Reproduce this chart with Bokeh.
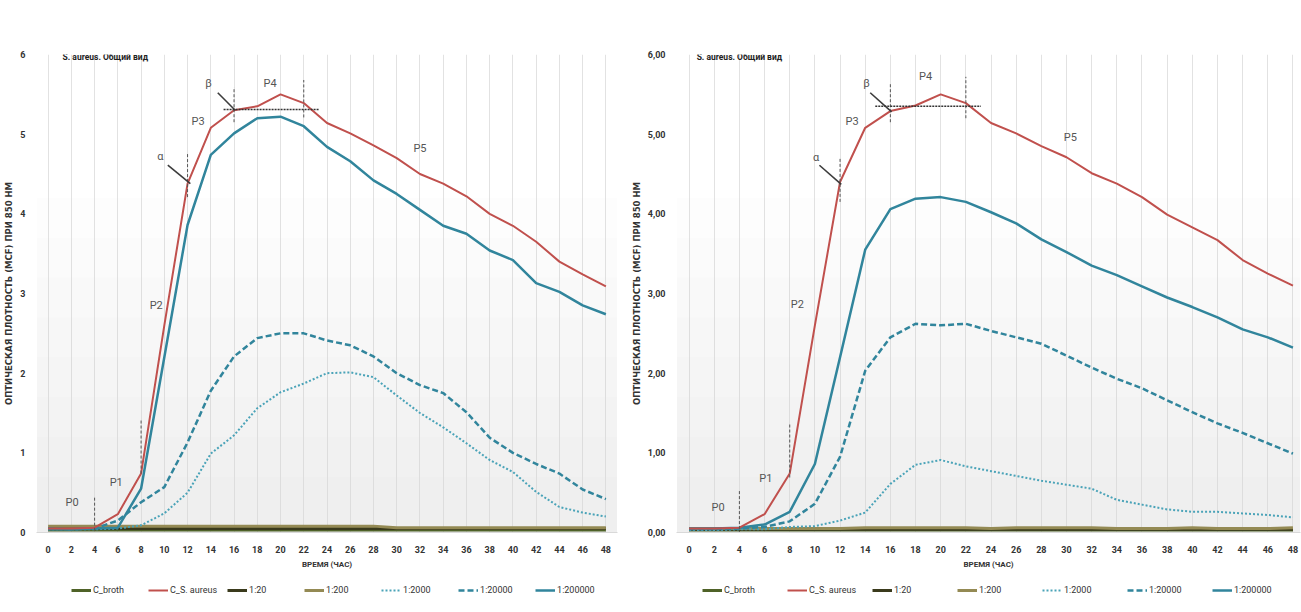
from bokeh.plotting import figure
from bokeh.layouts import row, column
from bokeh.models import FixedTicker, Legend, LegendItem, Label, BoxAnnotation, ColumnDataSource
from bokeh.embed import file_html
from bokeh.resources import INLINE
from bokeh.core.properties import value

# ---------------- data ----------------
hours = list(range(0, 49, 2))
title_text = "S. aureus. Общий вид"
x_label = "ВРЕМЯ (ЧАС)"
y_label = "ОПТИЧЕСКАЯ ПЛОТНОСТЬ (MCF) ПРИ 850 НМ"
series_names = ["C_broth", "C_S. aureus", "1:20", "1:200", "1:2000", "1:20000", "1:200000"]
y_ticks = [0, 1, 2, 3, 4, 5, 6]
left_ytick_labels = ["0", "1", "2", "3", "4", "5", "6"]
right_ytick_labels = ["0,00", "1,00", "2,00", "3,00", "4,00", "5,00", "6,00"]

# left panel
L_broth = [0.03] * 25
L_aureus = [0.05, 0.05, 0.06, 0.23, 0.74, 2.60, 4.38, 5.08, 5.30, 5.35, 5.50, 5.39, 5.14,
            5.01, 4.86, 4.70, 4.50, 4.38, 4.22, 4.00, 3.85, 3.65, 3.40, 3.24, 3.09]
L_1_20 = [0.05] * 25
L_1_200 = [0.08, 0.08, 0.08, 0.08, 0.08, 0.08, 0.08, 0.08, 0.08, 0.08, 0.08, 0.08, 0.08,
           0.08, 0.08, 0.06, 0.06, 0.06, 0.06, 0.06, 0.06, 0.06, 0.06, 0.06, 0.06]
L_1_2000 = [0.04, 0.04, 0.04, 0.05, 0.09, 0.24, 0.50, 0.99, 1.22, 1.56, 1.76, 1.87, 2.00,
            2.01, 1.95, 1.72, 1.50, 1.32, 1.12, 0.91, 0.76, 0.51, 0.32, 0.25, 0.20]
L_1_20000 = [0.05, 0.04, 0.05, 0.15, 0.38, 0.57, 1.13, 1.78, 2.21, 2.44, 2.50, 2.50, 2.41,
             2.35, 2.21, 2.00, 1.85, 1.75, 1.51, 1.19, 1.00, 0.86, 0.74, 0.54, 0.42]
L_1_200000 = [0.04, 0.04, 0.05, 0.06, 0.55, 2.20, 3.86, 4.74, 5.01, 5.20, 5.22, 5.10, 4.84,
              4.66, 4.42, 4.25, 4.05, 3.85, 3.75, 3.54, 3.42, 3.13, 3.02, 2.85, 2.74]

# right panel
R_broth = [0.03] * 25
R_aureus = [0.05, 0.05, 0.06, 0.23, 0.74, 2.60, 4.40, 5.08, 5.29, 5.36, 5.50, 5.39, 5.14,
            5.01, 4.85, 4.71, 4.51, 4.38, 4.21, 3.99, 3.83, 3.67, 3.42, 3.25, 3.10]
R_1_20 = [0.04] * 25
R_1_200 = [0.05, 0.05, 0.05, 0.05, 0.05, 0.05, 0.05, 0.06, 0.06, 0.06, 0.06, 0.06, 0.05,
           0.06, 0.06, 0.06, 0.06, 0.05, 0.05, 0.05, 0.06, 0.05, 0.05, 0.05, 0.06]
R_1_2000 = [0.03, 0.03, 0.04, 0.04, 0.07, 0.08, 0.15, 0.25, 0.61, 0.85, 0.91, 0.83, 0.77,
            0.71, 0.65, 0.60, 0.55, 0.41, 0.35, 0.29, 0.26, 0.26, 0.24, 0.22, 0.19]
R_1_20000 = [0.04, 0.04, 0.05, 0.07, 0.14, 0.36, 0.95, 2.03, 2.45, 2.62, 2.60, 2.62, 2.53,
             2.45, 2.37, 2.22, 2.07, 1.93, 1.81, 1.66, 1.51, 1.37, 1.25, 1.12, 0.99]
R_1_200000 = [0.05, 0.05, 0.06, 0.10, 0.26, 0.86, 2.20, 3.55, 4.06, 4.19, 4.21, 4.15, 4.02,
              3.88, 3.68, 3.52, 3.35, 3.23, 3.09, 2.95, 2.83, 2.70, 2.55, 2.45, 2.32]

# annotations (phase labels, markers)
phase_text = ["P0", "P1", "P2", "P3", "P4", "P5", "α", "β"]
L_phase_x = [2.07, 5.86, 9.3, 12.9, 19.1, 32.0, 9.66, 13.8]
L_phase_y = [0.38, 0.63, 2.85, 5.16, 5.63, 4.82, 4.72, 5.64]
R_phase_x = [2.3, 6.1, 8.6, 12.96, 18.8, 30.3, 10.1, 14.1]
R_phase_y = [0.31, 0.68, 2.86, 5.16, 5.73, 4.96, 4.71, 5.64]

L_vmark_x = [4, 8, 12, 16, 22]
L_vmark_y0 = [-0.04, 0.74, 4.21, 5.15, 5.21]
L_vmark_y1 = [0.44, 1.43, 4.77, 5.59, 5.68]
R_vmark_x = [4, 8, 12, 16, 22]
R_vmark_y0 = [-0.02, 0.69, 4.15, 5.15, 5.20]
R_vmark_y1 = [0.53, 1.38, 4.70, 5.65, 5.72]

L_diag_x0 = [10.3, 14.6]
L_diag_y0 = [4.61, 5.52]
L_diag_x1 = [12.24, 16.1]
L_diag_y1 = [4.38, 5.30]
R_diag_x0 = [10.36, 14.4]
R_diag_y0 = [4.61, 5.52]
R_diag_x1 = [12.1, 16.1]
R_diag_y1 = [4.37, 5.28]

L_hmark = (15.1, 23.3, 5.31)
R_hmark = (14.8, 23.2, 5.35)

# ---------------- styling ----------------
FONT = "Roboto"
C_GREEN = "#4f6228"
C_RED = "#c0504d"
C_DARK = "#3a3a1c"
C_TAN = "#948a54"
C_TEAL = "#31859c"
C_TEAL_L = "#4aa3b8"

STYLES = [
    dict(line_color=C_GREEN, line_width=3),
    dict(line_color=C_RED, line_width=2),
    dict(line_color=C_DARK, line_width=3),
    dict(line_color=C_TAN, line_width=3),
    dict(line_color=C_TEAL_L, line_width=2, line_dash="2 2"),
    dict(line_color=C_TEAL, line_width=2.5, line_dash="6 3"),
    dict(line_color=C_TEAL, line_width=2.5),
]
DRAW_ORDER = [0, 2, 3, 4, 5, 6, 1]


def make_panel(width, xr, mbl, mbr, ylabels, series, phase_x, phase_y,
               vx, vy0, vy1, dx0, dy0, dx1, dy1, hm, title_x, label_w, leg_x):
    p = figure(width=width, height=576, x_range=xr, y_range=(0, 6),
               output_backend="svg", toolbar_location=None, title=None,
               min_border_left=mbl, min_border_right=mbr,
               min_border_top=54, min_border_bottom=44)
    p.outline_line_color = None
    p.background_fill_color = "white"
    for t in [4.2, 3.7, 3.2, 2.7, 2.2, 1.7, 1.2, 0.7]:
        p.add_layout(BoxAnnotation(top=t, fill_color="#d6dee3", fill_alpha=0.06,
                                   line_color=None, level="underlay"))
    xt = FixedTicker(ticks=hours)
    p.xaxis.ticker = xt
    p.xgrid.ticker = xt
    p.xgrid.grid_line_color = "#e2e2e2"
    p.ygrid.grid_line_color = None
    p.yaxis.ticker = FixedTicker(ticks=y_ticks)
    p.yaxis.major_label_overrides = {t: s for t, s in zip(y_ticks, ylabels)}
    for ax in (p.xaxis[0], p.yaxis[0]):
        ax.major_tick_line_color = None
        ax.minor_tick_line_color = None
        ax.major_label_text_font = FONT
        ax.major_label_text_font_size = "9px"
        ax.major_label_text_font_style = "bold"
        ax.major_label_text_color = "#333333"
        ax.axis_label_text_color = "#333333"
        ax.axis_label_text_font_style = "bold"
    p.xaxis.axis_line_color = "#d9d9d9"
    p.yaxis.axis_line_color = None
    p.xaxis.major_label_standoff = 7
    p.yaxis.major_label_standoff = 5
    p.xaxis.axis_label = x_label
    p.xaxis.axis_label_text_font = FONT
    p.xaxis.axis_label_text_font_size = "8px"
    p.xaxis.axis_label_standoff = 4
    p.yaxis.axis_label = y_label
    p.yaxis.axis_label_text_font = "DejaVu Sans"
    p.yaxis.axis_label_text_font_size = "8.5px"
    p.yaxis.axis_label_standoff = 3

    for i in DRAW_ORDER:
        p.line(hours, series[i], **STYLES[i])

    # markers
    p.segment(x0=vx, y0=vy0, x1=vx, y1=vy1, line_color="#555555", line_width=1,
              line_dash="3 2")
    p.segment(x0=dx0, y0=dy0, x1=dx1, y1=dy1, line_color="#3c3c3c", line_width=1.6)
    p.segment(x0=[hm[0]], y0=[hm[2]], x1=[hm[1]], y1=[hm[2]], line_color="#333333",
              line_width=1.5, line_dash="2 1")
    src = ColumnDataSource(dict(x=phase_x, y=phase_y, t=phase_text))
    p.text(x="x", y="y", text="t", source=src, text_font=value(FONT),
           text_font_size="11px", text_color="#555555", text_align="center",
           text_baseline="middle")

    p.add_layout(Label(x=title_x, y=5.97, text=title_text, text_font=FONT,
                       text_font_size="8.5px", text_font_style="bold",
                       text_color="#222222", text_baseline="middle"))

    # legend strip below the chart (series drawn off-view; only the legend shows)
    lf = figure(width=width, height=28, x_range=(0, 1), y_range=(100, 101),
                output_backend="svg", toolbar_location=None, title=None,
                x_axis_location=None, y_axis_location=None,
                min_border_left=0, min_border_right=0, min_border_top=0,
                min_border_bottom=0)
    lf.grid.visible = False
    lf.outline_line_color = None
    items = []
    for i, name in enumerate(series_names):
        r = lf.line(hours, series[i], **STYLES[i])
        items.append(LegendItem(label=name, renderers=[r]))
    leg = Legend(items=items, orientation="horizontal", location=(leg_x, 9),
                 glyph_width=20, glyph_height=10, label_standoff=2,
                 label_width=label_w, spacing=10, padding=6, margin=0,
                 label_text_font=FONT, label_text_font_size="9px",
                 label_text_color="#333333", border_line_color=None,
                 background_fill_alpha=0)
    lf.add_layout(leg)
    return column(p, lf, spacing=0)


c1 = make_panel(624, (-1, 49), 36, 7, left_ytick_labels,
                [L_broth, L_aureus, L_1_20, L_1_200, L_1_2000, L_1_20000, L_1_200000],
                L_phase_x, L_phase_y, L_vmark_x, L_vmark_y0, L_vmark_y1,
                L_diag_x0, L_diag_y0, L_diag_x1, L_diag_y1, L_hmark, 1.24, 45, 35)
c2 = make_panel(673, (-1, 48.6), 44, 1, right_ytick_labels,
                [R_broth, R_aureus, R_1_20, R_1_200, R_1_2000, R_1_20000, R_1_200000],
                R_phase_x, R_phase_y, R_vmark_x, R_vmark_y0, R_vmark_y1,
                R_diag_x0, R_diag_y0, R_diag_x1, R_diag_y1, R_hmark, 0.6, 53, 26)

layout = row(c1, c2, spacing=4)
open("out.html", "w").write(file_html(layout, INLINE))
